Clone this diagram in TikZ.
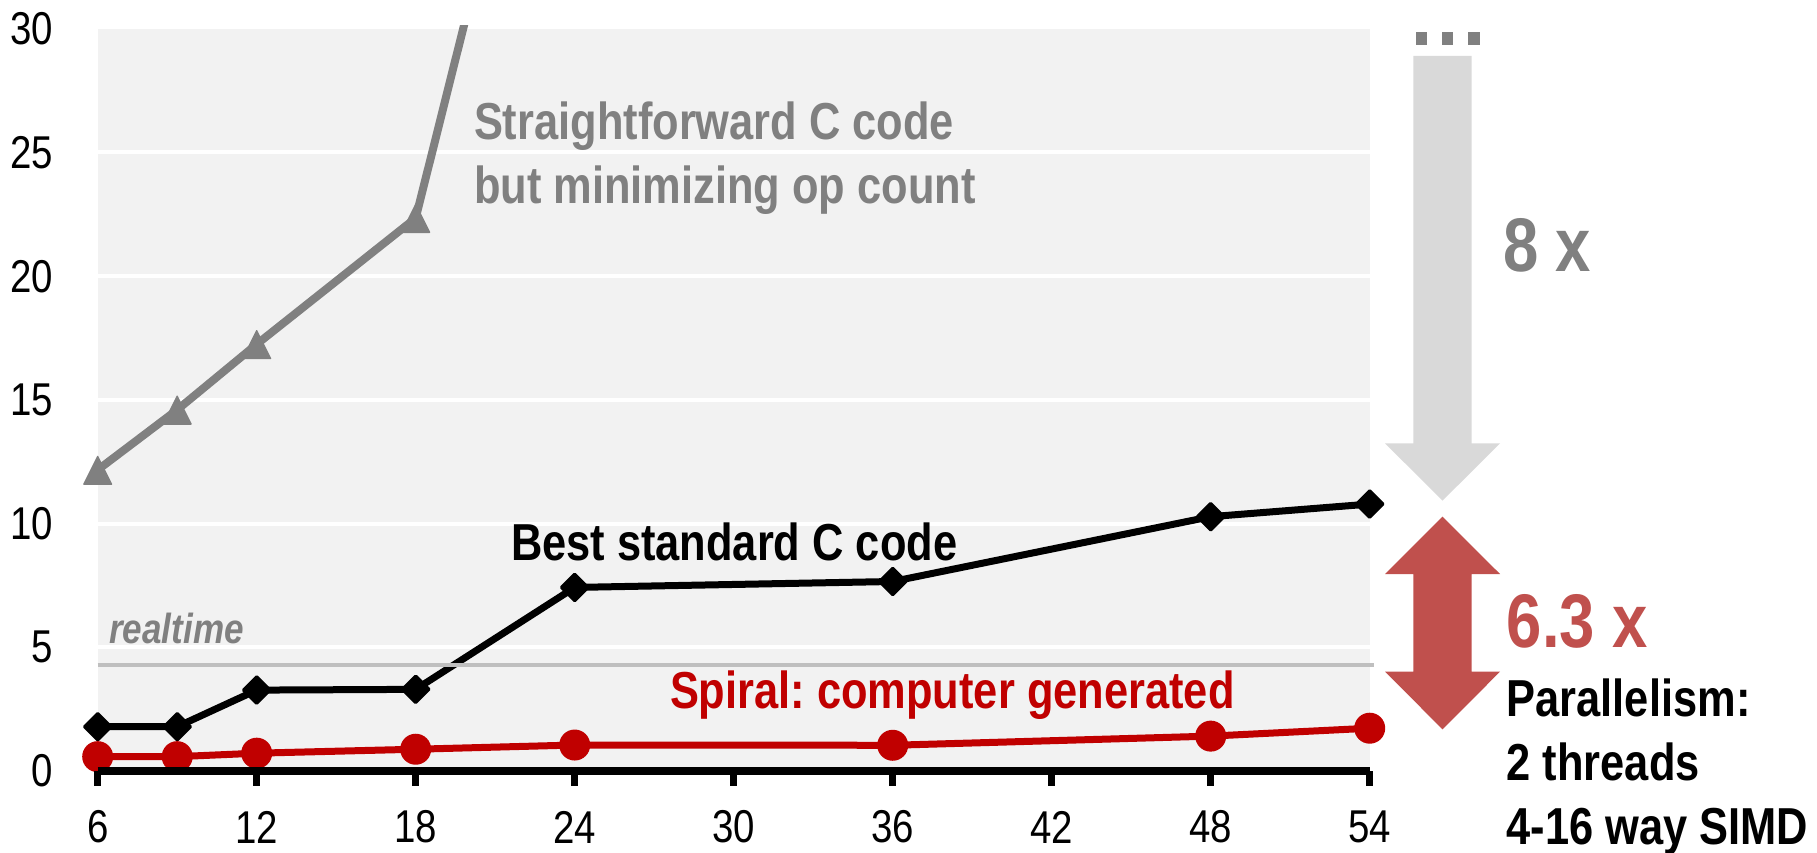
\documentclass[tikz,border=0pt]{standalone}
\usepackage{fontspec}
\setmainfont{Liberation Sans}[FakeStretch=0.835]
\usetikzlibrary{shapes.geometric}
\frenchspacing

\definecolor{plotbg}{HTML}{F2F2F2}
\definecolor{opgray}{HTML}{808080}
\definecolor{rtgray}{HTML}{BFBFBF}
\definecolor{bigarrow}{HTML}{D9D9D9}
\definecolor{spiralred}{HTML}{C00000}
\definecolor{gainred}{HTML}{C0504D}

\tikzset{
  txt/.style={inner sep=0pt, outer sep=0pt, anchor=base west,
    font=\bfseries\fontsize{52}{64}\selectfont},
  bigtxt/.style={inner sep=0pt, outer sep=0pt, anchor=base west,
    font=\bfseries\fontsize{76}{90}\selectfont},
  ticklbl/.style={inner sep=0pt, outer sep=0pt,
    font=\fontsize{46}{52}\selectfont},
  grid line/.style={white, line width=4pt},
  series/.style={line width=7pt, line join=round},
  dmark/.style={diamond, fill=black, inner sep=0pt, minimum width=31pt,
    minimum height=31pt, rounded corners=1.5pt},
  cmark/.style={circle, fill=spiralred, inner sep=0pt, minimum size=31pt},
  tmark/.style={fill=opgray, rounded corners=1pt},
}

\begin{document}
\begin{tikzpicture}[x=1pt, y=-1pt]
\useasboundingbox (0,0) rectangle (1817,853);

% ---------- plot area in data units (x = size, y = runtime) ----------
\begin{scope}[shift={(-61.3,771)}, x=26.5pt, y=24.74pt]
  \fill[plotbg] (6,0) rectangle (54,30);
  \foreach \v in {5,10,...,25}
    \draw[grid line] (6,\v) -- (54,\v);

  % straightforward C code
  \coordinate (t1) at (6,12.17);
  \coordinate (t2) at (9,14.6);
  \coordinate (t3) at (12,17.25);
  \coordinate (t4) at (18,22.35);
  \coordinate (t5) at (24,48);
  % best standard C code
  \coordinate (b1) at (6,1.79);
  \coordinate (b2) at (9,1.79);
  \coordinate (b3) at (12,3.27);
  \coordinate (b4) at (18,3.3);
  \coordinate (b5) at (24,7.42);
  \coordinate (b6) at (36,7.66);
  \coordinate (b7) at (48,10.28);
  \coordinate (b8) at (54,10.79);
  % Spiral generated code
  \coordinate (r1) at (6,0.58);
  \coordinate (r2) at (9,0.58);
  \coordinate (r3) at (12,0.72);
  \coordinate (r4) at (18,0.88);
  \coordinate (r5) at (24,1.05);
  \coordinate (r6) at (36,1.04);
  \coordinate (r7) at (48,1.41);
  \coordinate (r8) at (54,1.73);

  \coordinate (rtL) at (6,4.28);
  \coordinate (rtR) at (54.15,4.28);
  \coordinate (axL) at (6,0);
  \coordinate (axR) at (54,0);
\end{scope}

% series lines
\begin{scope}
  \clip (0,26) rectangle (1817,853);
  \draw[series, opgray, line width=8pt] (t1) -- (t2) -- (t3) -- (t4) -- (t5);
\end{scope}
\draw[series, black] (b1) -- (b2) -- (b3) -- (b4) -- (b5) -- (b6) -- (b7) -- (b8);
\draw[series, spiralred] (r1) -- (r2) -- (r3) -- (r4) -- (r5) -- (r6) -- (r7) -- (r8);

% realtime threshold
\draw[rtgray, line width=3.5pt] (rtL) -- (rtR);
\node[inner sep=0pt, anchor=base west, text=opgray,
  font=\bfseries\itshape\fontsize{42}{48}\selectfont] (rt) at (109,643) {realtime};

% markers
\foreach \p in {t1,t2,t3,t4}
  \fill[tmark] (\p) ++(0,-15) -- ++(15,30) -- ++(-30,0) -- cycle;
\foreach \i in {1,...,8}
  \node[dmark] (bm\i) at (b\i) {};
\foreach \i in {1,...,8}
  \node[cmark] (rm\i) at (r\i) {};

% x axis with ticks
\draw[black, line width=7.5pt] (axL) -- (axR);
\foreach \v in {6,12,...,54} {
  \draw[black, line width=7pt] ({97.7+(\v-6)*26.5},771) -- ++(0,15);
  \node[ticklbl] (xl\v) at ({97.7+(\v-6)*26.5},827) {\v};
}
% y labels
\foreach \v in {0,5,...,30}
  \node[ticklbl, anchor=east] (yl\v) at (53,{771-24.74*\v}) {\v};

% series labels
\node[txt, text=opgray] (sf1) at (474,140) {Straightforward C code};
\node[txt, text=opgray] (sf2) at (474,204) {but minimizing op count};
\node[txt, text=black] (best) at (511,560) {Best standard C code};
\node[txt, text=spiralred] (spiral) at (670,708) {Spiral: computer generated};

% speed-up arrows
\foreach \cx in {1421.5,1447.5,1474.2}
  \fill[opgray] ({\cx-5.85},31.7) rectangle ({\cx+5.85},45);
\fill[bigarrow] (1413.3,56) -- (1471.7,56) -- (1471.7,443.3) -- (1500,443.3)
  -- (1442.5,500.7) -- (1385,443.3) -- (1413.3,443.3) -- cycle;
\fill[gainred] (1442.5,516.7) -- (1500,574) -- (1471.7,574) -- (1471.7,671.7)
  -- (1500,671.7) -- (1442.5,729.3) -- (1385,671.7) -- (1413.3,671.7)
  -- (1413.3,574) -- (1385,574) -- cycle;

\node[bigtxt, text=opgray] (eight) at (1503,271.7) {8 x};
\node[bigtxt, text=gainred] (sixthree) at (1506.7,647.3) {6.3 x};
\node[txt, text=black] (par1) at (1506.7,716) {Parallelism:};
\node[txt, text=black] (par2) at (1506.7,780) {2 threads};
\node[txt, text=black] (par3) at (1506.7,844) {4-16 way SIMD};
\end{tikzpicture}
\end{document}
